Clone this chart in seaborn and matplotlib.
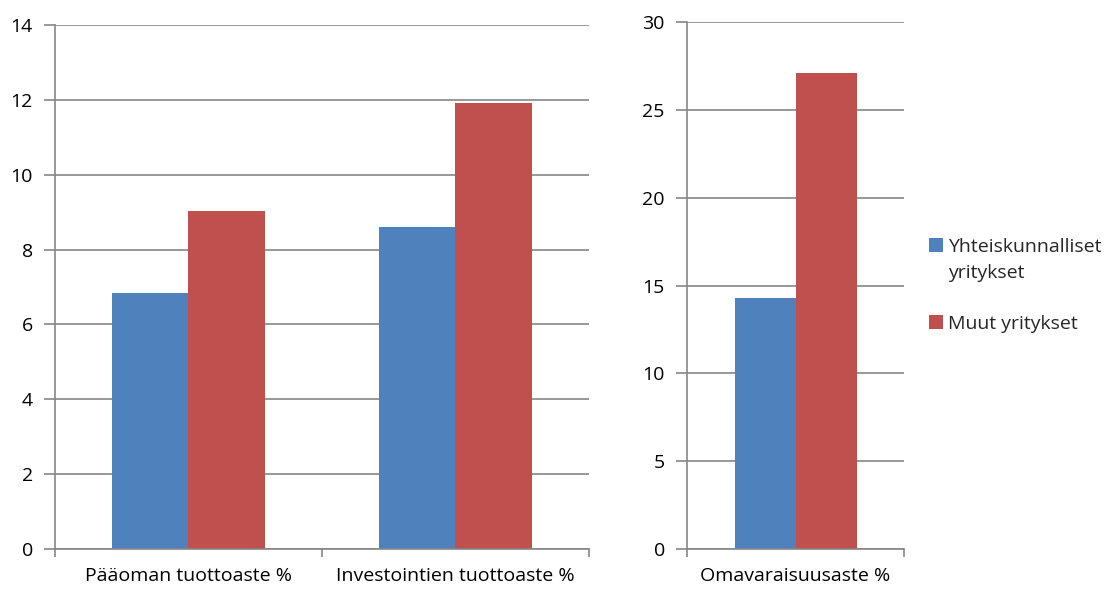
import matplotlib
matplotlib.use("Agg")
import matplotlib.pyplot as plt
import seaborn as sns
import pandas as pd
from matplotlib.patches import Patch
from matplotlib.ticker import FixedLocator, MultipleLocator

series = ["Yhteiskunnalliset yritykset", "Muut yritykset"]
left_categories = ["Pääoman tuottoaste %", "Investointien tuottoaste %"]
left_yhteis = [6.83, 8.6]
left_muut = [9.02, 11.92]
right_categories = ["Omavaraisuusaste %"]
right_yhteis = [14.3]
right_muut = [27.1]
colors = ["#4F81BD", "#C0504D"]
legend_labels = ["Yhteiskunnalliset\nyritykset", "Muut yritykset"]

sns.set_theme(style="white")
plt.rcParams["font.family"] = ["Open Sans", "DejaVu Sans"]

def long_df(cats, a, b):
    rows = []
    for c, v in zip(cats, a):
        rows.append({"cat": c, "series": series[0], "val": v})
    for c, v in zip(cats, b):
        rows.append({"cat": c, "series": series[1], "val": v})
    return pd.DataFrame(rows)

fig = plt.figure(figsize=(11.11, 5.9), dpi=100)
ax1 = fig.add_axes([0.0495, 0.0695, 0.4806, 0.888])
ax2 = fig.add_axes([0.6184, 0.0695, 0.1953, 0.8932])

grid_c = "#868686"
FS = 14

def style(ax, ncat, ymax, ystep):
    ax.set_ylim(0, ymax)
    ax.set_xlim(-0.5, ncat - 0.5)
    ax.yaxis.set_major_locator(MultipleLocator(ystep))
    ax.grid(axis="y", color=grid_c, linewidth=1.2)
    ax.set_axisbelow(True)
    for s in ["top", "right"]:
        ax.spines[s].set_visible(False)
    for s in ["left", "bottom"]:
        ax.spines[s].set_color(grid_c)
        ax.spines[s].set_linewidth(1.2)
    ax.tick_params(axis="y", which="major", length=8, width=1.2, color=grid_c,
                   labelsize=FS, labelcolor="black", pad=8, left=True)
    ax.tick_params(axis="x", which="major", length=0, labelsize=FS,
                   labelcolor="black", pad=13)
    ax.xaxis.set_minor_locator(FixedLocator([i - 0.5 for i in range(ncat + 1)]))
    ax.tick_params(axis="x", which="minor", length=6, width=1.2, color=grid_c, bottom=True)
    ax.set_xlabel("")
    ax.set_ylabel("")
    leg = ax.get_legend()
    if leg is not None:
        leg.remove()

df1 = long_df(left_categories, left_yhteis, left_muut)
sns.barplot(data=df1, x="cat", y="val", hue="series", hue_order=series,
            palette=colors, width=0.57, gap=0, saturation=1, ax=ax1,
            errorbar=None, linewidth=0)
style(ax1, 2, 14, 2)

df2 = long_df(right_categories, right_yhteis, right_muut)
sns.barplot(data=df2, x="cat", y="val", hue="series", hue_order=series,
            palette=colors, width=0.562, gap=0, saturation=1, ax=ax2,
            errorbar=None, linewidth=0)
style(ax2, 1, 30, 5)

handles = [Patch(facecolor=c, edgecolor="none") for c in colors]
leg = fig.legend(handles, legend_labels, loc="upper left", bbox_to_anchor=(0.829, 0.610),
                 frameon=False, fontsize=FS, handlelength=0.75, handleheight=0.75,
                 handletextpad=0.25, labelspacing=1.7, borderaxespad=0)
for t in leg.get_texts():
    t.set_linespacing(1.55)
# align the first square with the first line of its two-line label
h0 = leg.legend_handles[0]
h0.set_y(h0.get_y() + 10.8)

fig.savefig("out.png", dpi=100)
